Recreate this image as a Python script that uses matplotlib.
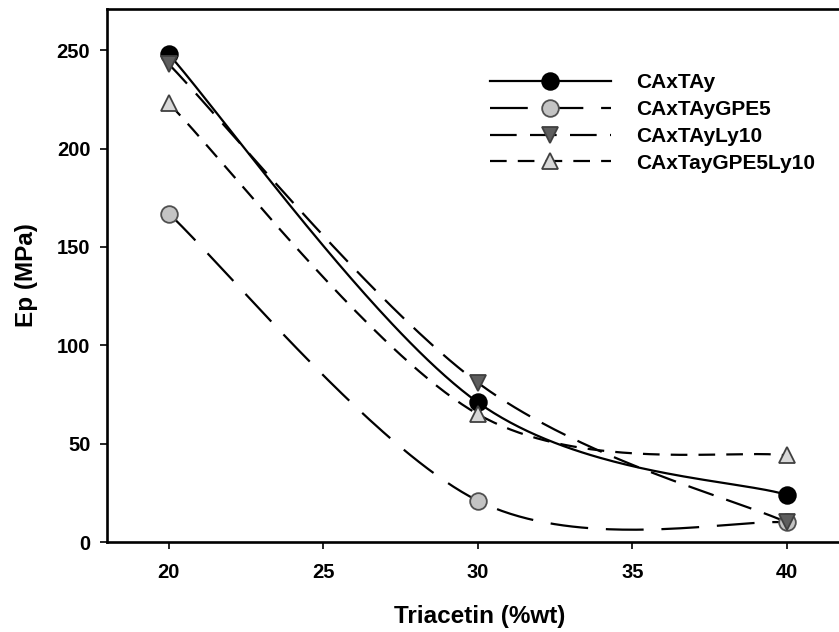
import numpy as np
import matplotlib
matplotlib.use("Agg")
import matplotlib.pyplot as plt
from matplotlib.lines import Line2D

plt.rcParams['font.family'] = ['Liberation Sans', 'DejaVu Sans']
plt.rcParams['font.weight'] = 'bold'

# Triacetin content (%wt) and modulus Ep (MPa) for each formulation
triacetin = [20, 30, 40]
ep_caxtay = [248, 71, 24]
ep_gpe5 = [167, 21, 10]
ep_ly10 = [243, 81, 10]
ep_gpe5_ly10 = [223, 65, 44]

series_labels = ["CAxTAy", "CAxTAyGPE5", "CAxTAyLy10", "CAxTayGPE5Ly10"]
x_ticks = [20, 25, 30, 35, 40]
y_ticks = [0, 50, 100, 150, 200, 250]


def smooth_curve(x, y, n=80):
    """Parametric Catmull-Rom curve through the points (ends repeated)."""
    P = np.column_stack([np.asarray(x, float), np.asarray(y, float)])
    ext = np.vstack([P[0], P, P[-1]])
    t = np.linspace(0, 1, n)[:, None]
    h00 = 2 * t**3 - 3 * t**2 + 1
    h10 = t**3 - 2 * t**2 + t
    h01 = -2 * t**3 + 3 * t**2
    h11 = t**3 - t**2
    pieces = []
    for i in range(1, len(ext) - 2):
        p0, p1 = ext[i], ext[i + 1]
        m0 = (ext[i + 1] - ext[i - 1]) / 2
        m1 = (ext[i + 2] - ext[i]) / 2
        pieces.append(h00 * p0 + h10 * m0 + h01 * p1 + h11 * m1)
    pts = np.vstack(pieces)
    return pts[:, 0], pts[:, 1]


W, H = 839, 632
fig = plt.figure(figsize=(W / 100, H / 100), dpi=100)
fig.patch.set_facecolor('white')

# axes frame in pixel terms; right side runs past the figure edge
left_px, bottom_px, top_px = 107, 542, 9
xmin, xmax = 18, 42
ymin, ymax = 0, 271
px_per_x = (788 - 170) / 20.0
width_px = (xmax - xmin) * px_per_x
ax = fig.add_axes([left_px / W, (H - bottom_px) / H,
                   width_px / W, (bottom_px - top_px) / H])
ax.set_xlim(xmin, xmax)
ax.set_ylim(ymin, ymax)

lw = 1.6
ms = 12
styles = [
    dict(ls='-', marker='o', mfc='black', mec='black'),
    dict(ls=(0, (17, 8)), marker='o', mfc='#c4c4c4', mec='#505050'),
    dict(ls=(0, (12, 6)), marker='v', mfc='#5e5e5e', mec='#404040'),
    dict(ls=(0, (7.5, 5)), marker='^', mfc='#d8d8d8', mec='#404040'),
]
series = [ep_caxtay, ep_gpe5, ep_ly10, ep_gpe5_ly10]

handles = []
for vals, st, lab in zip(series, styles, series_labels):
    xs, ys = smooth_curve(triacetin, vals)
    ax.plot(xs, ys, color='black', lw=lw, ls=st['ls'], zorder=2)
    ax.plot(triacetin, vals, ls='none', marker=st['marker'], ms=ms,
            mfc=st['mfc'], mec=st['mec'], mew=1.3, zorder=3, clip_on=False)
    handles.append(Line2D([], [], color='black', lw=lw, ls=st['ls'],
                          marker=st['marker'], ms=ms, mfc=st['mfc'],
                          mec=st['mec'], mew=1.3, label=lab))

for side in ['left', 'bottom', 'top', 'right']:
    ax.spines[side].set_linewidth(1.9)

ax.set_xticks(x_ticks)
ax.set_yticks(y_ticks)
ax.tick_params(axis='both', direction='out', length=5, width=1.2,
               labelsize=14.5)
for lbl in ax.get_xticklabels() + ax.get_yticklabels():
    lbl.set_fontweight('bold')
ax.tick_params(axis='x', pad=10)
ax.tick_params(axis='y', pad=7)

fig.text(480 / W, 1 - 616 / H, "Triacetin (%wt)", ha='center', va='center',
         fontsize=17.5, fontweight='bold')
fig.text(26 / W, 1 - 275 / H, "Ep (MPa)", ha='center', va='center',
         rotation=90, fontsize=17.5, fontweight='bold')

leg = fig.legend(handles=handles, loc='upper left',
                 bbox_to_anchor=(490 / W, 1 - 73 / H),
                 frameon=False, fontsize=15, handlelength=5.8,
                 handletextpad=1.2, labelspacing=0.38, borderpad=0,
                 borderaxespad=0, numpoints=1)
for t in leg.get_texts():
    t.set_fontweight('bold')

fig.savefig('out.png', dpi=100, facecolor='white')
